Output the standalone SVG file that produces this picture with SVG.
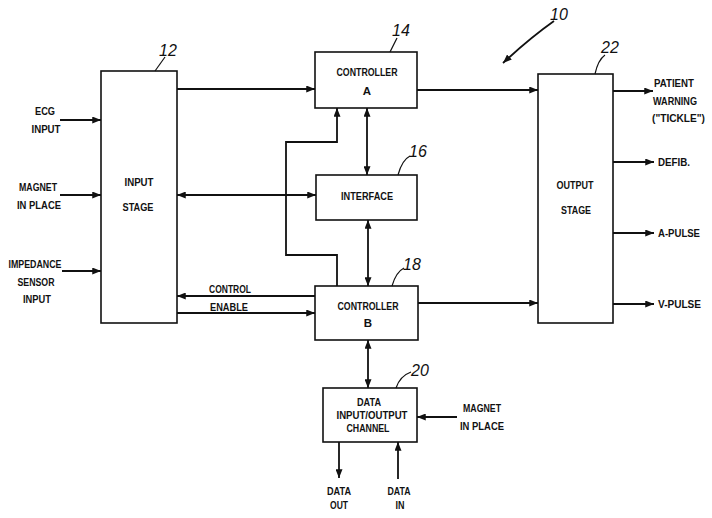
<svg xmlns="http://www.w3.org/2000/svg" width="712" height="518" viewBox="0 0 712 518">
<defs>
<style>
.box{fill:#fff;stroke:#111;stroke-width:1.6}
.ln{fill:none;stroke:#111;stroke-width:1.8}
.ld{fill:none;stroke:#111;stroke-width:1.2}
.t{font-family:"Liberation Sans",Arial,sans-serif;font-weight:bold;font-size:11.5px;fill:#111}
.m{text-anchor:middle}
.n{font-family:"Liberation Sans",Arial,sans-serif;font-style:italic;font-size:16px;fill:#111;text-anchor:middle}
</style>
<marker id="ah" viewBox="0 0 10 8" refX="10" refY="4" markerWidth="9" markerHeight="7" markerUnits="userSpaceOnUse" orient="auto-start-reverse">
<path d="M0,0 L10,4 L0,8 z" fill="#111"/>
</marker>
</defs>
<rect width="712" height="518" fill="#fff"/>

<g id="connectors">
<line class="ln" x1="60" y1="120" x2="101" y2="120" marker-end="url(#ah)"/>
<line class="ln" x1="60" y1="195" x2="101" y2="195" marker-end="url(#ah)"/>
<line class="ln" x1="62" y1="271" x2="101" y2="271" marker-end="url(#ah)"/>
<line class="ln" x1="177" y1="89" x2="315" y2="89" marker-end="url(#ah)"/>
<line class="ln" x1="177" y1="195" x2="316" y2="195" marker-start="url(#ah)" marker-end="url(#ah)"/>
<line class="ln" x1="367" y1="108" x2="367" y2="175" marker-start="url(#ah)" marker-end="url(#ah)"/>
<line class="ln" x1="368" y1="220" x2="368" y2="286" marker-start="url(#ah)" marker-end="url(#ah)"/>
<polyline class="ln" points="337,286 337,255 286,255 286,142 337,142 337,108" marker-end="url(#ah)"/>
<line class="ln" x1="315" y1="296" x2="177" y2="296" marker-end="url(#ah)"/>
<line class="ln" x1="177" y1="313" x2="315" y2="313" marker-end="url(#ah)"/>
<line class="ln" x1="417" y1="90" x2="538" y2="90" marker-end="url(#ah)"/>
<line class="ln" x1="418" y1="303" x2="538" y2="303" marker-end="url(#ah)"/>
<line class="ln" x1="613" y1="91" x2="653" y2="91" marker-end="url(#ah)"/>
<line class="ln" x1="613" y1="162" x2="654" y2="162" marker-end="url(#ah)"/>
<line class="ln" x1="613" y1="233" x2="654" y2="233" marker-end="url(#ah)"/>
<line class="ln" x1="613" y1="304" x2="654" y2="304" marker-end="url(#ah)"/>
<line class="ln" x1="368" y1="340" x2="368" y2="388" marker-start="url(#ah)" marker-end="url(#ah)"/>
<line class="ln" x1="457" y1="417" x2="417" y2="417" marker-end="url(#ah)"/>
<line class="ln" x1="339" y1="442" x2="339" y2="478" marker-end="url(#ah)"/>
<line class="ln" x1="398" y1="479" x2="398" y2="442" marker-end="url(#ah)"/>
<path class="ln" d="M554,21 Q530,38 503,63" marker-end="url(#ah)"/>
</g>

<g id="input-stage">
<rect class="box" x="101" y="71" width="76" height="252"/>
<text class="t m" x="139" y="186" textLength="29" lengthAdjust="spacingAndGlyphs">INPUT</text>
<text class="t m" x="138" y="211" textLength="31" lengthAdjust="spacingAndGlyphs">STAGE</text>
<path class="ld" d="M155,71 L165,57"/>
<text class="n" x="168" y="56">12</text>
</g>

<g id="controller-a">
<rect class="box" x="315" y="52" width="102" height="56"/>
<text class="t m" x="367" y="76" textLength="61" lengthAdjust="spacingAndGlyphs">CONTROLLER</text>
<text class="t m" x="367" y="95">A</text>
<path class="ld" d="M390,52 L397,38"/>
<text class="n" x="401" y="36">14</text>
</g>

<g id="interface">
<rect class="box" x="316" y="175" width="101" height="45"/>
<text class="t m" x="367" y="200" textLength="52" lengthAdjust="spacingAndGlyphs">INTERFACE</text>
<path class="ld" d="M398,175 Q402,160 410,156"/>
<text class="n" x="418" y="157">16</text>
</g>

<g id="controller-b">
<rect class="box" x="315" y="286" width="103" height="54"/>
<text class="t m" x="368" y="310" textLength="61" lengthAdjust="spacingAndGlyphs">CONTROLLER</text>
<text class="t m" x="368" y="327">B</text>
<path class="ld" d="M392,286 Q396,272 404,268"/>
<text class="n" x="412" y="270">18</text>
</g>

<g id="data-channel">
<rect class="box" x="323" y="388" width="94" height="54"/>
<text class="t m" x="369" y="406" textLength="24" lengthAdjust="spacingAndGlyphs">DATA</text>
<text class="t m" x="372" y="419" textLength="71" lengthAdjust="spacingAndGlyphs">INPUT/OUTPUT</text>
<text class="t m" x="368" y="432" textLength="43" lengthAdjust="spacingAndGlyphs">CHANNEL</text>
<path class="ld" d="M396,388 Q400,376 411,372"/>
<text class="n" x="420" y="376">20</text>
</g>

<g id="output-stage">
<rect class="box" x="538" y="74" width="75" height="249"/>
<text class="t m" x="575" y="189" textLength="37" lengthAdjust="spacingAndGlyphs">OUTPUT</text>
<text class="t m" x="576" y="214" textLength="30" lengthAdjust="spacingAndGlyphs">STAGE</text>
<path class="ld" d="M595,74 Q598,60 605,55"/>
<text class="n" x="610" y="53">22</text>
</g>

<g id="labels">
<text class="t m" x="45" y="115" textLength="20" lengthAdjust="spacingAndGlyphs">ECG</text>
<text class="t m" x="46" y="133" textLength="29" lengthAdjust="spacingAndGlyphs">INPUT</text>
<text class="t m" x="38" y="191" textLength="38" lengthAdjust="spacingAndGlyphs">MAGNET</text>
<text class="t m" x="39" y="209" textLength="44" lengthAdjust="spacingAndGlyphs">IN PLACE</text>
<text class="t m" x="35" y="268" textLength="53" lengthAdjust="spacingAndGlyphs">IMPEDANCE</text>
<text class="t m" x="36" y="286" textLength="37" lengthAdjust="spacingAndGlyphs">SENSOR</text>
<text class="t m" x="37" y="303" textLength="28" lengthAdjust="spacingAndGlyphs">INPUT</text>
<text class="t m" x="230" y="293" textLength="42" lengthAdjust="spacingAndGlyphs">CONTROL</text>
<text class="t m" x="229" y="311" textLength="38" lengthAdjust="spacingAndGlyphs">ENABLE</text>
<text class="t" x="654" y="87" textLength="40" lengthAdjust="spacingAndGlyphs">PATIENT</text>
<text class="t" x="653" y="105" textLength="44" lengthAdjust="spacingAndGlyphs">WARNING</text>
<text class="t" x="652" y="122" textLength="53" lengthAdjust="spacingAndGlyphs">("TICKLE")</text>
<text class="t" x="658" y="166" textLength="32" lengthAdjust="spacingAndGlyphs">DEFIB.</text>
<text class="t" x="658" y="237" textLength="42" lengthAdjust="spacingAndGlyphs">A-PULSE</text>
<text class="t" x="658" y="308" textLength="43" lengthAdjust="spacingAndGlyphs">V-PULSE</text>
<text class="t m" x="482" y="412" textLength="38" lengthAdjust="spacingAndGlyphs">MAGNET</text>
<text class="t m" x="482" y="430" textLength="44" lengthAdjust="spacingAndGlyphs">IN PLACE</text>
<text class="t m" x="339" y="495" textLength="24" lengthAdjust="spacingAndGlyphs">DATA</text>
<text class="t m" x="339" y="509" textLength="18" lengthAdjust="spacingAndGlyphs">OUT</text>
<text class="t m" x="399" y="495" textLength="23" lengthAdjust="spacingAndGlyphs">DATA</text>
<text class="t m" x="400" y="509" textLength="9" lengthAdjust="spacingAndGlyphs">IN</text>
<text class="n" x="559" y="20">10</text>
</g>
</svg>
